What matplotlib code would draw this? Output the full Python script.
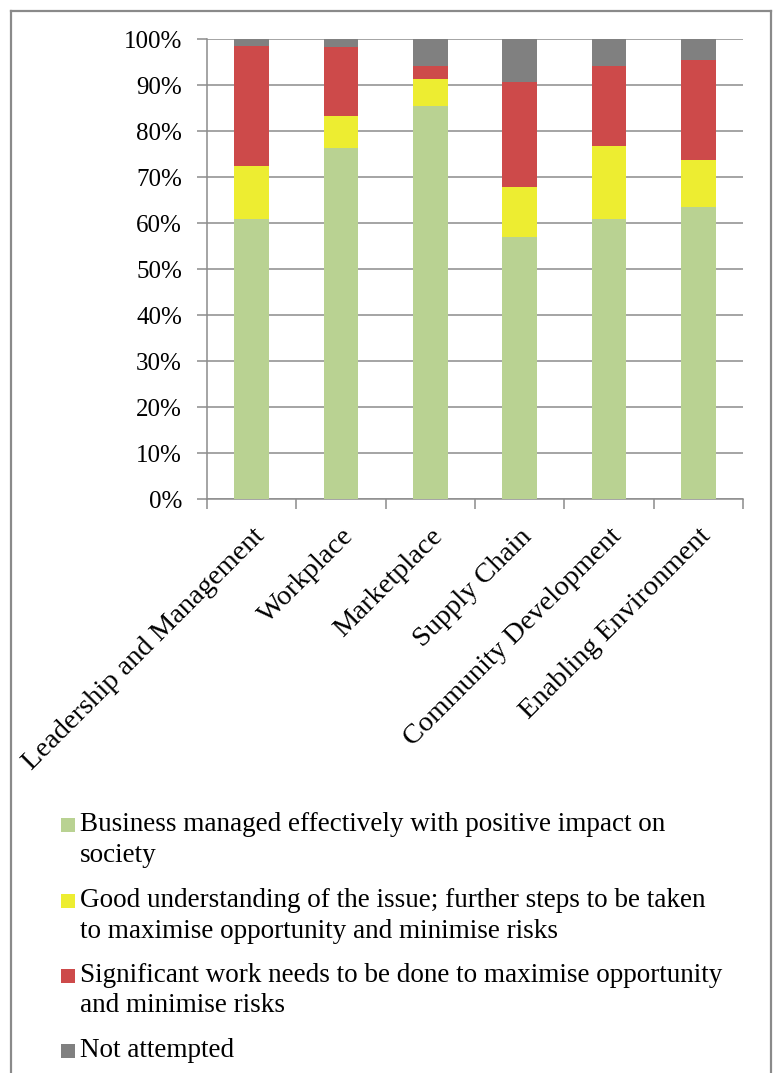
import matplotlib
matplotlib.use("Agg")
import matplotlib.pyplot as plt
from matplotlib.lines import Line2D
from matplotlib.patches import Rectangle
import numpy as np

categories = ["Leadership and Management", "Workplace", "Marketplace",
              "Supply Chain", "Community Development", "Enabling Environment"]
effective = [60.9, 76.2, 85.4, 57.0, 60.9, 63.4]
good = [11.4, 7.0, 5.8, 10.9, 15.9, 10.3]
significant = [26.2, 15.0, 2.9, 22.8, 17.3, 21.7]
not_attempted = [1.5, 1.8, 5.9, 9.3, 5.9, 4.6]
series_labels = [
    "Business managed effectively with positive impact on\nsociety",
    "Good understanding of the issue; further steps to be taken\nto maximise opportunity and minimise risks",
    "Significant work needs to be done to maximise opportunity\nand minimise risks",
    "Not attempted",
]
y_ticks = [0, 10, 20, 30, 40, 50, 60, 70, 80, 90, 100]
y_tick_labels = ["0%", "10%", "20%", "30%", "40%", "50%", "60%", "70%", "80%", "90%", "100%"]

colors = ["#B9D292", "#EDED31", "#CD4A4A", "#808080"]
font = "Liberation Serif"

W, H = 777, 1073
fig = plt.figure(figsize=(W / 100, H / 100), dpi=100)
fig.patch.set_facecolor("white")

ax = fig.add_axes([207 / W, 1 - 499 / H, 536 / W, 460 / H])
x = np.arange(len(categories))
series = [effective, good, significant, not_attempted]
bottom = np.zeros(len(categories))
for vals, col in zip(series, colors):
    ax.bar(x, vals, bottom=bottom, width=0.39, color=col, zorder=3, linewidth=0)
    bottom += np.array(vals)

ax.set_xlim(-0.5, len(categories) - 0.5)
ax.set_ylim(0, 100)
ax.set_yticks(y_ticks)
ax.set_yticklabels(y_tick_labels, fontfamily=font, fontsize=18)
ax.yaxis.grid(True, color="#8c8c8c", linewidth=1.1, zorder=0)
ax.set_axisbelow(True)

ax.set_xticks(x)
ax.set_xticklabels(categories, fontfamily=font, fontsize=20.5, rotation=45,
                   ha="right", rotation_mode="anchor")
ax.tick_params(axis="x", which="major", length=0, pad=18)
ax.set_xticks(np.arange(-0.5, len(categories)), minor=True)
ax.tick_params(axis="x", which="minor", length=7, color="#8c8c8c", width=1.1)
ax.tick_params(axis="y", length=7, color="#8c8c8c", width=1.1, pad=11)

for s in ["top", "right"]:
    ax.spines[s].set_visible(False)
for s in ["left", "bottom"]:
    ax.spines[s].set_color("#8c8c8c")
    ax.spines[s].set_linewidth(1.1)

# Legend (drawn manually to match the layout)
entry_baselines = [831, 907, 982, 1057]
line_pitch = 30.5
for lab, col, yb in zip(series_labels, colors, entry_baselines):
    fig.patches.append(Rectangle((61 / W, 1 - (yb + 1) / H), 14 / W, 14 / H,
                                 transform=fig.transFigure, facecolor=col,
                                 edgecolor="none"))
    for i, line in enumerate(lab.split("\n")):
        fig.text(80 / W, 1 - (yb + i * line_pitch) / H, line, fontfamily=font,
                 fontsize=19.5, va="baseline", ha="left")

# Outer frame
fc = "#8a8a8a"
x0, x1, yt = 11 / W, 771 / W, 1 - 11 / H
fig.add_artist(Line2D([x0, x0], [yt, -0.01], transform=fig.transFigure, color=fc, lw=1.6))
fig.add_artist(Line2D([x1, x1], [yt, -0.01], transform=fig.transFigure, color=fc, lw=1.6))
fig.add_artist(Line2D([x0, x1], [yt, yt], transform=fig.transFigure, color=fc, lw=1.6))

fig.savefig("out.png", dpi=100)
